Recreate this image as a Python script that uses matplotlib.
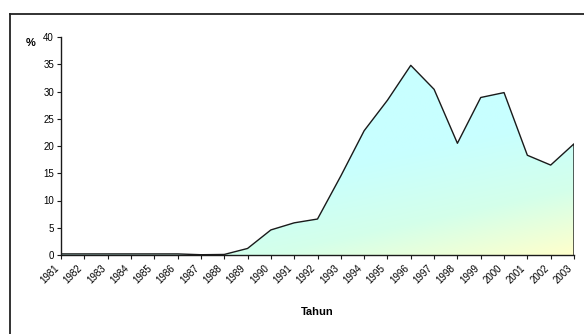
import numpy as np
import matplotlib
matplotlib.use("Agg")
import matplotlib.pyplot as plt
from matplotlib.patches import Polygon
from matplotlib.lines import Line2D
from matplotlib.colors import LinearSegmentedColormap

years = list(range(1981, 2004))
values = [0.2, 0.2, 0.2, 0.2, 0.2, 0.2, 0.05, 0.1, 1.2, 4.6, 5.9, 6.6,
          14.5, 22.8, 28.4, 34.8, 30.4, 20.5, 28.9, 29.8, 18.3, 16.5, 20.4]
yticks = [0, 5, 10, 15, 20, 25, 30, 35, 40]

plt.rcParams['font.family'] = ['Liberation Sans', 'DejaVu Sans']

fig = plt.figure(figsize=(5.84, 3.34), dpi=100)
ax = fig.add_axes([61/584, 1-255/334, (574-61)/584, (255-37)/334])

x = np.array(years, dtype=float)
y = np.array(values)

# gradient fill clipped to the area polygon
cmap = LinearSegmentedColormap.from_list('g', ['#c8ffff', '#d4ffea', '#ffffcc'])
nx, ny = 300, 200
gx, gy = np.meshgrid(np.linspace(0, 1, nx), np.linspace(0, 1, ny))
t = np.clip((0.7 * gx + 1.4 * (1 - gy) - 1.2) / 0.9, 0, 1) ** 1.1
im = ax.imshow(t, cmap=cmap, extent=[x[0], x[-1], 0, 40], origin='lower',
               aspect='auto', vmin=0, vmax=1, zorder=1)
verts = np.vstack([[x[0], 0], np.column_stack([x, y]), [x[-1], 0]])
poly = Polygon(verts, closed=True, facecolor='none', edgecolor='none')
ax.add_patch(poly)
im.set_clip_path(poly)
ax.plot(np.r_[x, x[-1]], np.r_[y, 0], color='#1a1a1a', lw=1.0, zorder=3)

ax.set_xlim(x[0], x[-1])
ax.set_ylim(0, 40)
ax.set_yticks(yticks)
ax.set_xticks(years)
ax.set_xticklabels([str(v) for v in years], rotation=45, ha='right', va='top',
                   rotation_mode='default')
ax.tick_params(axis='both', labelsize=7, direction='out', length=3, width=0.8,
               color='#1a1a1a', pad=2)
ax.tick_params(axis='x', pad=3)
for s in ['top', 'right']:
    ax.spines[s].set_visible(False)
for s in ['left', 'bottom']:
    ax.spines[s].set_linewidth(1.0)
    ax.spines[s].set_color('#1a1a1a')

fig.text(31/584, 1-43/334, '%', fontsize=8, fontweight='bold', ha='center', va='center')
fig.text(317/584, 1-312/334, 'Tahun', fontsize=8, fontweight='bold', ha='center', va='center')

# outer frame (top and left edges visible)
fig.add_artist(Line2D([10/584, 1], [1-14/334, 1-14/334], transform=fig.transFigure,
                      color='#222222', lw=1.3))
fig.add_artist(Line2D([10/584, 10/584], [0, 1-14/334], transform=fig.transFigure,
                      color='#222222', lw=1.3))

fig.savefig('out.png', dpi=100)
